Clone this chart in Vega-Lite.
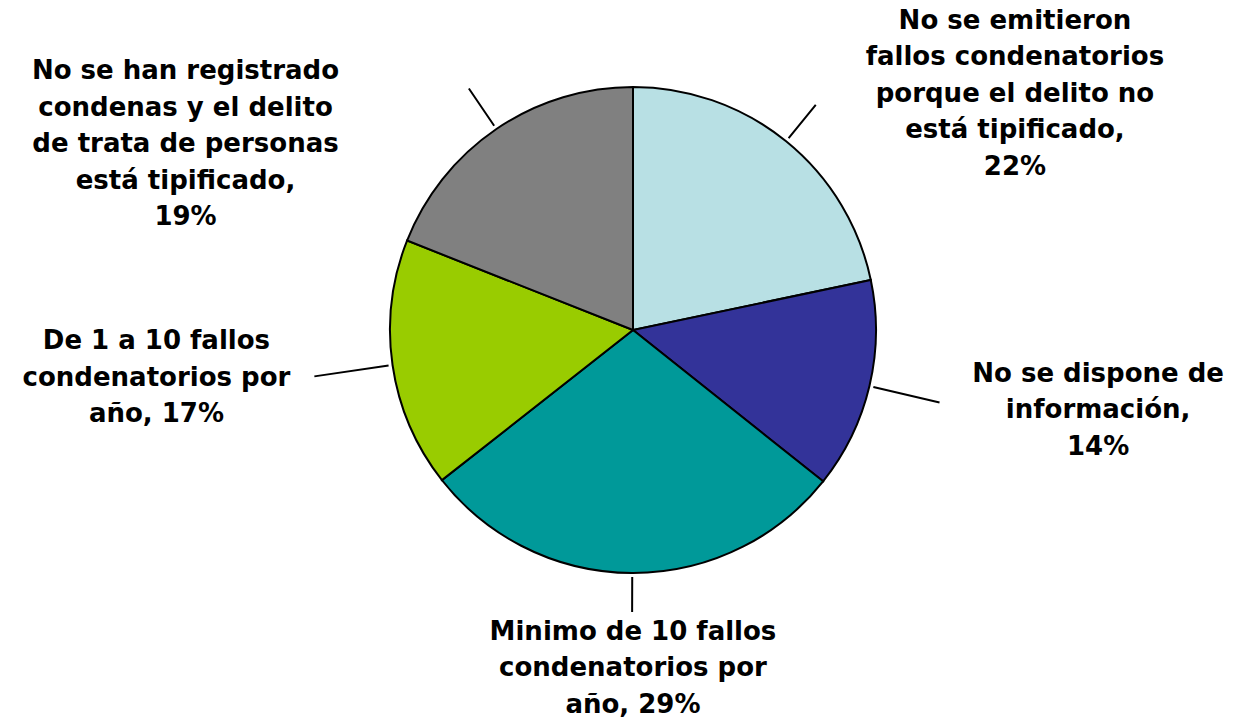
{
  "$schema": "https://vega.github.io/schema/vega-lite/v6.json",
  "width": 1208,
  "height": 660,
  "autosize": {"type": "none"},
  "padding": {"left": 29, "top": 0, "right": 0, "bottom": 59},
  "background": "white",
  "view": {"stroke": null},
  "config": {"text": {"font": "DejaVu Sans", "fontWeight": "bold", "fontSize": 26, "lineHeight": 36.5, "align": "center", "baseline": "middle", "color": "black", "lineBreak": "\n"}},
  "data": {
    "values": [
      {"orden": 1, "categoria": "No se emitieron fallos condenatorios porque el delito no está tipificado", "valor": 21.7, "etiqueta": "No se emitieron\nfallos condenatorios\nporque el delito no\nestá tipificado,\n22%"},
      {"orden": 2, "categoria": "No se dispone de información", "valor": 14.0, "etiqueta": "No se dispone de\ninformación,\n14%"},
      {"orden": 3, "categoria": "Minimo de 10 fallos condenatorios por año", "valor": 28.7, "etiqueta": "Minimo de 10 fallos\ncondenatorios por\naño, 29%"},
      {"orden": 4, "categoria": "De 1 a 10 fallos condenatorios por año", "valor": 16.6, "etiqueta": "De 1 a 10 fallos\ncondenatorios por\naño, 17%"},
      {"orden": 5, "categoria": "No se han registrado condenas y el delito de trata de personas está tipificado", "valor": 19.0, "etiqueta": "No se han registrado\ncondenas y el delito\nde trata de personas\nestá tipificado,\n19%"}
    ]
  },
  "transform": [
    {"window": [{"op": "sum", "field": "valor", "as": "acum"}], "sort": [{"field": "orden"}], "frame": [null, 0]},
    {"calculate": "datum.acum - datum.valor / 2", "as": "medio"}
  ],
  "layer": [
    {
      "mark": {"type": "arc", "radius": 243, "stroke": "black", "strokeWidth": 2},
      "encoding": {
        "theta": {"field": "valor", "type": "quantitative", "stack": true, "scale": {"domain": [0, 100]}},
        "order": {"field": "orden"},
        "color": {
          "field": "categoria", "type": "nominal", "legend": null,
          "scale": {
            "domain": ["No se emitieron fallos condenatorios porque el delito no está tipificado", "No se dispone de información", "Minimo de 10 fallos condenatorios por año", "De 1 a 10 fallos condenatorios por año", "No se han registrado condenas y el delito de trata de personas está tipificado"],
            "range": ["#B8E0E4", "#333399", "#009999", "#99CC00", "#808080"]
          }
        }
      }
    },
    {"transform": [{"filter": "datum.orden == 1"}], "mark": {"type": "arc", "radius": 247, "radius2": 290, "stroke": "black", "strokeWidth": 2, "fill": null}, "encoding": {"theta": {"field": "medio", "type": "quantitative", "scale": {"domain": [0, 100]}}, "theta2": {"field": "medio"}}},
    {"transform": [{"filter": "datum.orden == 2"}], "mark": {"type": "arc", "radius": 247, "radius2": 315, "stroke": "black", "strokeWidth": 2, "fill": null}, "encoding": {"theta": {"field": "medio", "type": "quantitative", "scale": {"domain": [0, 100]}}, "theta2": {"field": "medio"}}},
    {"transform": [{"filter": "datum.orden == 3"}], "mark": {"type": "arc", "radius": 247, "radius2": 282, "stroke": "black", "strokeWidth": 2, "fill": null}, "encoding": {"theta": {"field": "medio", "type": "quantitative", "scale": {"domain": [0, 100]}}, "theta2": {"field": "medio"}}},
    {"transform": [{"filter": "datum.orden == 4"}], "mark": {"type": "arc", "radius": 247, "radius2": 322, "stroke": "black", "strokeWidth": 2, "fill": null}, "encoding": {"theta": {"field": "medio", "type": "quantitative", "scale": {"domain": [0, 100]}}, "theta2": {"field": "medio"}}},
    {"transform": [{"filter": "datum.orden == 5"}], "mark": {"type": "arc", "radius": 247, "radius2": 292, "stroke": "black", "strokeWidth": 2, "fill": null}, "encoding": {"theta": {"field": "medio", "type": "quantitative", "scale": {"domain": [0, 100]}}, "theta2": {"field": "medio"}}},
    {"transform": [{"filter": "datum.orden == 1"}], "mark": {"type": "text", "radius": 330, "dx": 174, "dy": -53}, "encoding": {"theta": {"field": "medio", "type": "quantitative", "scale": {"domain": [0, 100]}}, "text": {"field": "etiqueta"}}},
    {"transform": [{"filter": "datum.orden == 2"}], "mark": {"type": "text", "radius": 330, "dx": 144, "dy": -32.5}, "encoding": {"theta": {"field": "medio", "type": "quantitative", "scale": {"domain": [0, 100]}}, "text": {"field": "etiqueta"}}},
    {"transform": [{"filter": "datum.orden == 3"}], "mark": {"type": "text", "radius": 330, "dx": 1, "dy": -28}, "encoding": {"theta": {"field": "medio", "type": "quantitative", "scale": {"domain": [0, 100]}}, "text": {"field": "etiqueta"}}},
    {"transform": [{"filter": "datum.orden == 4"}], "mark": {"type": "text", "radius": 330, "dx": -150, "dy": -36.5}, "encoding": {"theta": {"field": "medio", "type": "quantitative", "scale": {"domain": [0, 100]}}, "text": {"field": "etiqueta"}}},
    {"transform": [{"filter": "datum.orden == 5"}], "mark": {"type": "text", "radius": 330, "dx": -262, "dy": 14}, "encoding": {"theta": {"field": "medio", "type": "quantitative", "scale": {"domain": [0, 100]}}, "text": {"field": "etiqueta"}}}
  ]
}
